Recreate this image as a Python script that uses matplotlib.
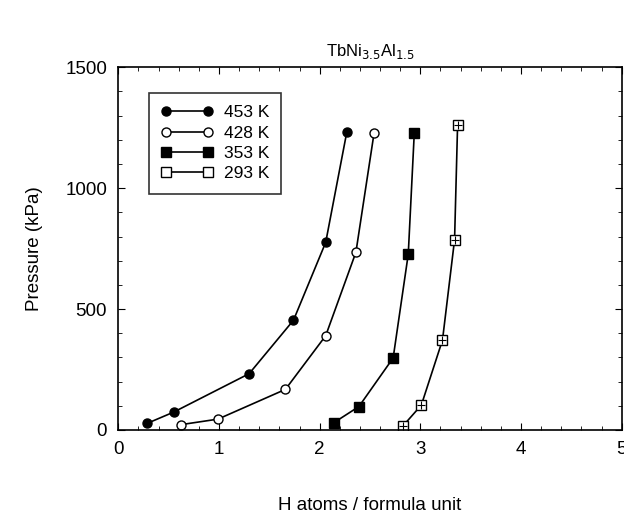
import matplotlib
matplotlib.use("Agg")
import matplotlib.pyplot as plt
from matplotlib.ticker import MultipleLocator

plt.rcParams["font.family"] = ["Liberation Sans", "DejaVu Sans"]

# isotherms, H atoms per formula unit vs pressure (kPa)
x_453 = [0.29, 0.55, 1.30, 1.74, 2.06, 2.27]
p_453 = [28, 74, 233, 454, 776, 1233]
x_428 = [0.62, 0.99, 1.66, 2.06, 2.36, 2.54]
p_428 = [22, 45, 168, 390, 735, 1227]
x_353 = [2.14, 2.39, 2.73, 2.88, 2.94]
p_353 = [30, 97, 298, 727, 1230]
x_293 = [2.83, 3.01, 3.22, 3.34, 3.37]
p_293 = [18, 103, 372, 787, 1262]

labels = ["453 K", "428 K", "353 K", "293 K"]

fig = plt.figure(figsize=(6.24, 5.16), dpi=100)
ax = fig.add_axes([118.3 / 624, 1 - 430 / 516, (621.7 - 118.3) / 624, (430 - 67.3) / 516])

kw = dict(color="black", lw=1.2, ms=6.5, mec="black", mew=1.0)
ax.plot(x_453, p_453, marker="o", mfc="black", label=labels[0], **kw)
ax.plot(x_428, p_428, marker="o", mfc="white", label=labels[1], **kw)
ax.plot(x_353, p_353, marker="s", mfc="black", label=labels[2], **kw)
ax.plot(x_293, p_293, marker="s", mfc="white", label=labels[3], **kw)
ax.plot(x_293, p_293, ls="none", marker="+", color="black", ms=6, mew=0.8)

ax.set_xlim(0, 5)
ax.set_ylim(0, 1500)
ax.xaxis.set_major_locator(MultipleLocator(1))
ax.xaxis.set_minor_locator(MultipleLocator(0.2))
ax.yaxis.set_major_locator(MultipleLocator(500))
ax.yaxis.set_minor_locator(MultipleLocator(100))
ax.tick_params(which="both", direction="in", top=True, right=True)
ax.tick_params(which="major", length=5, labelsize=13.5, pad=8)
ax.tick_params(which="minor", length=3)
for s in ax.spines.values():
    s.set_linewidth(1.2)

ax.set_xlabel("H atoms / formula unit", fontsize=13.5, labelpad=28)
ax.set_ylabel("Pressure (kPa)", fontsize=13.5, labelpad=16)
ax.set_title(r"TbNi$_{3.5}$Al$_{1.5}$", fontsize=12, pad=8)

leg = ax.legend(loc="upper left", bbox_to_anchor=(0.061, 0.929), borderaxespad=0,
                numpoints=2, fontsize=12.5, frameon=True, fancybox=False,
                edgecolor="black", handlelength=3.0, handletextpad=0.6,
                labelspacing=0.3, borderpad=0.7)
leg.get_frame().set_linewidth(1.2)

fig.savefig("out.png", dpi=100)
